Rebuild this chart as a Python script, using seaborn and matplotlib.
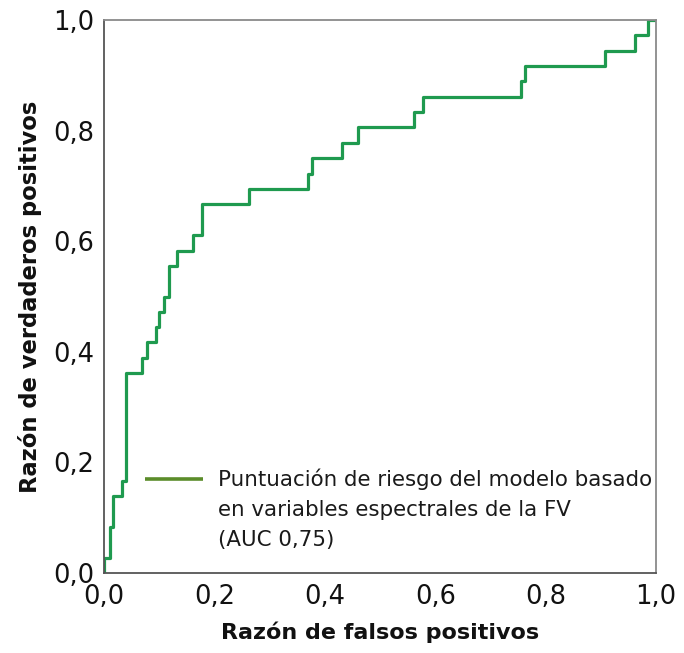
import matplotlib
matplotlib.use("Agg")
import matplotlib.pyplot as plt
import seaborn as sns
import pandas as pd

# ROC curve corner points (false positive rate, true positive rate)
fpr = [0.0, 0.0, 0.010, 0.016, 0.033, 0.039, 0.068, 0.077, 0.095, 0.100, 0.109,
       0.117, 0.132, 0.162, 0.177, 0.263, 0.370, 0.376, 0.431, 0.461, 0.562,
       0.577, 0.755, 0.763, 0.908, 0.962, 0.986, 1.0]
tpr = [0.0, 0.028, 0.083, 0.139, 0.167, 0.361, 0.389, 0.417, 0.444, 0.472, 0.500,
       0.556, 0.583, 0.611, 0.667, 0.694, 0.722, 0.750, 0.778, 0.806, 0.833,
       0.861, 0.889, 0.917, 0.944, 0.972, 1.0, 1.0]

tick_values = [0.0, 0.2, 0.4, 0.6, 0.8, 1.0]
tick_labels = ["0,0", "0,2", "0,4", "0,6", "0,8", "1,0"]

legend_label = "Puntuación de riesgo del modelo basado\nen variables espectrales de la FV\n(AUC 0,75)"
x_label = "Razón de falsos positivos"
y_label = "Razón de verdaderos positivos"

sns.set_theme(style="white")
plt.rcParams["font.family"] = ["DejaVu Sans"]

df = pd.DataFrame({"fpr": fpr, "tpr": tpr})

fig = plt.figure(figsize=(6.84, 6.53), dpi=100)
ax = fig.add_axes([104 / 684, 80 / 653, 552 / 684, 553 / 653])

sns.lineplot(data=df, x="fpr", y="tpr", estimator=None, sort=False,
             drawstyle="steps-post", color="#1f9a4f", linewidth=2.3, ax=ax)

ax.set_xlim(0, 1)
ax.set_ylim(0, 1)
ax.set_xticks(tick_values)
ax.set_xticklabels(tick_labels)
ax.set_yticks(tick_values)
ax.set_yticklabels(tick_labels)

for s in ax.spines.values():
    s.set_color("#8a8a8a")
    s.set_linewidth(1.3)
ax.spines["left"].set_color("#555555")
ax.spines["bottom"].set_color("#555555")

ax.tick_params(axis="y", direction="out", length=4, width=1, color="#555555",
               labelsize=18.5, pad=3, labelcolor="#111111")
ax.tick_params(axis="x", direction="in", length=5, width=1, color="#555555",
               labelsize=18.5, pad=8, labelcolor="#111111")

ax.set_xlabel(x_label, fontsize=16, fontweight="bold", color="#111111", labelpad=8)
ax.set_ylabel(y_label, fontsize=16.3, fontweight="bold", color="#111111", labelpad=8)

# legend drawn manually (handle aligned with the first text line)
ax.plot([0.074, 0.179], [0.170, 0.170], transform=ax.transAxes, color="#5b8c2a",
        linewidth=2.6, solid_capstyle="butt")
ax.text(0.206, 0.189, legend_label, transform=ax.transAxes, ha="left", va="top",
        fontsize=15.4, color="#1a1a1a", linespacing=1.64)

fig.savefig("out.png", dpi=100)
